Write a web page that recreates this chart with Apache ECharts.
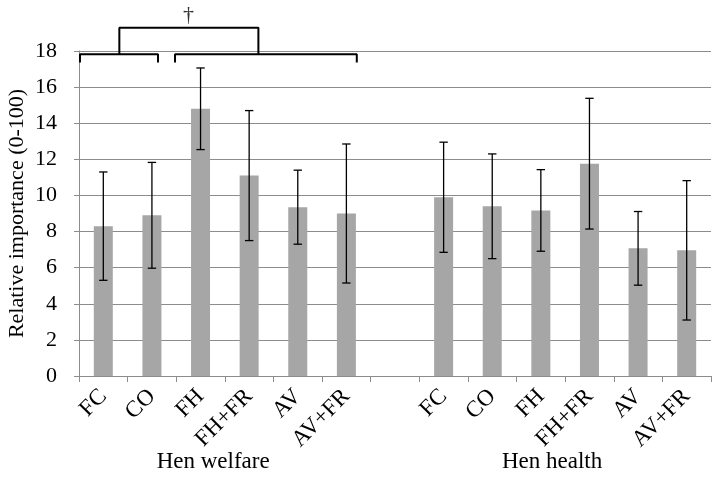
<!DOCTYPE html>
<html>
<head>
<meta charset="utf-8">
<script src="https://cdn.jsdelivr.net/npm/echarts@6/dist/echarts.min.js"></script>
<style>html,body{margin:0;padding:0;background:#fff}#c{width:716px;height:485px}</style>
</head>
<body>
<div id="c"></div>
<script>
const categories = ['FC','CO','FH','FH+FR','AV','AV+FR','','FC','CO','FH','FH+FR','AV','AV+FR'];
const welfareMeans = [8.3, 8.9, 14.8, 11.1, 9.35, 9.0];
const welfareErr = [3.0, 2.93, 2.26, 3.6, 2.05, 3.85];
const healthMeans = [9.9, 9.4, 9.17, 11.76, 7.07, 6.96];
const healthErr = [3.05, 2.9, 2.26, 3.62, 2.04, 3.86];
const groupLabels = ['Hen welfare', 'Hen health'];
const groupLabelX = [2.76, 9.73];      // in category-band units
const groupLabelY = -4.75;
const yTicks = {min: 0, max: 18, interval: 2};
// brackets: [x0, x1, yTop, yLegBottom] in band units / data units
const brackets = [
  [0.02, 1.625, 17.82, 17.36],
  [1.975, 5.714, 17.82, 17.36],
  [0.83, 3.69, 19.29, 17.82]
];
const dagger = {text: '\u2020', x: 2.25, y: 20.0};

const means = welfareMeans.concat(['-'], healthMeans);
const errs = welfareErr.concat([null], healthErr);
const errData = [];
means.forEach((m, i) => { if (m !== '-') errData.push([i, m - errs[i], m + errs[i]]); });

const FONT = "'Liberation Serif','Times New Roman',serif";
const chart = echarts.init(document.getElementById('c'));

const bracketSeries = brackets.map(b => ({
  type: 'line', xAxisIndex: 1, yAxisIndex: 0, clip: false, silent: true,
  symbol: 'none', animation: false,
  lineStyle: {color: '#000', width: 2},
  data: [[b[0], b[3]], [b[0], b[2]], [b[1], b[2]], [b[1], b[3]]]
}));

chart.setOption({
  animation: false,
  grid: {left: 79, right: 5, top: 51, bottom: 109, containLabel: false, outerBoundsMode: 'none'},
  xAxis: [{
    type: 'category', data: categories,
    axisLine: {lineStyle: {color: '#8c8c8c', width: 1}},
    axisTick: {show: true, length: 6, lineStyle: {color: '#8c8c8c'}},
    axisLabel: {interval: 0, rotate: 45, margin: 17, color: '#000', fontFamily: FONT, fontSize: 23}
  }, {
    type: 'value', min: 0, max: 13, show: false
  }],
  yAxis: {
    type: 'value', min: yTicks.min, max: yTicks.max, interval: yTicks.interval,
    name: 'Relative importance (0-100)', nameLocation: 'middle', nameGap: 51, nameMoveOverlap: false,
    nameTextStyle: {fontFamily: FONT, fontSize: 22, color: '#000'},
    axisLine: {show: true, lineStyle: {color: '#8c8c8c'}},
    axisTick: {show: true, length: 5, lineStyle: {color: '#8c8c8c'}},
    axisLabel: {margin: 22, color: '#000', fontFamily: FONT, fontSize: 22},
    splitLine: {lineStyle: {color: '#8c8c8c', width: 1}}
  },
  series: [{
    type: 'bar', data: means, barWidth: 19,
    itemStyle: {color: '#a6a6a6'}
  }, {
    type: 'custom', data: errData, z: 5,
    renderItem: function (params, api) {
      const x = api.value(0);
      const lo = api.coord([x, api.value(1)]);
      const hi = api.coord([x, api.value(2)]);
      const cap = 4.2;
      const st = {stroke: '#000', lineWidth: 1.3};
      return {type: 'group', children: [
        {type: 'line', shape: {x1: lo[0], y1: lo[1], x2: hi[0], y2: hi[1]}, style: st},
        {type: 'line', shape: {x1: lo[0]-cap, y1: lo[1], x2: lo[0]+cap, y2: lo[1]}, style: st},
        {type: 'line', shape: {x1: hi[0]-cap, y1: hi[1], x2: hi[0]+cap, y2: hi[1]}, style: st}
      ]};
    }
  }, {
    type: 'custom', xAxisIndex: 1, yAxisIndex: 0, clip: false,
    data: groupLabels.map((t, i) => [groupLabelX[i], groupLabelY, t]).concat([[dagger.x, dagger.y, dagger.text]]),
    renderItem: function (params, api) {
      const p = api.coord([api.value(0), api.value(1)]);
      const isDagger = params.dataIndex === groupLabels.length;
      return {type: 'text', x: p[0], y: p[1], style: {
        text: api.value(2), fill: isDagger ? '#333' : '#000',
        font: (isDagger ? 22 : 23) + 'px ' + FONT, textAlign: 'center', textVerticalAlign: 'middle'
      }};
    }
  }].concat(bracketSeries)
});
</script>
</body>
</html>
